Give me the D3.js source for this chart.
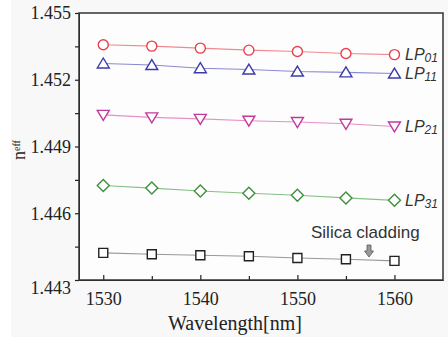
<!DOCTYPE html>
<html><head><meta charset="utf-8">
<script src="https://cdn.jsdelivr.net/npm/d3@7/dist/d3.min.js"></script>
<style>
html,body{margin:0;padding:0;background:#fff;}
svg{display:block;}
</style></head>
<body>
<svg id="chart" width="448" height="338"></svg>
<script>
const wavelengths = [1530, 1535, 1540, 1545, 1550, 1555, 1560];
const lp01 = [1.45357, 1.45351, 1.45342, 1.45333, 1.45327, 1.45318, 1.45313];
const lp11 = [1.45273, 1.45266, 1.45252, 1.45246, 1.45237, 1.45233, 1.45228];
const lp21 = [1.45042, 1.45031, 1.45024, 1.45016, 1.45010, 1.45002, 1.44990];
const lp31 = [1.44725, 1.44713, 1.44700, 1.44690, 1.44681, 1.44669, 1.44658];
const cladding = [1.44422, 1.44416, 1.44411, 1.44407, 1.44399, 1.44393, 1.44386];
const seriesNames = ["01", "11", "21", "31"];
const xTicks = [1530, 1540, 1550, 1560];
const xMinorTicks = [1535, 1545, 1555];
const yTicks = [1.443, 1.446, 1.449, 1.452, 1.455];
const yMinorTicks = [1.4445, 1.4475, 1.4505, 1.4535];

const svg = d3.select("#chart");
svg.append("rect").attr("x", 11).attr("y", 0).attr("width", 437).attr("height", 337).attr("fill", "#f8f8f8");

const L = 79, R = 443, T = 13, B = 280;
const x = d3.scaleLinear().domain([1527.5, 1565]).range([L, R]);
const y = d3.scaleLinear().domain([1.443, 1.455]).range([B, T]);

svg.append("rect").attr("x", L).attr("y", T).attr("width", R - L).attr("height", B - T).attr("fill", "#fdfdfd");

const serif = "'Liberation Serif','Times New Roman',serif";
const sans = "'Liberation Sans',Arial,sans-serif";

// X axis
const gx = svg.append("g").attr("transform", `translate(0,${B})`)
  .call(d3.axisBottom(x).tickValues(xTicks).tickFormat(d3.format("d")).tickSizeInner(-5).tickSizeOuter(0).tickPadding(12));
gx.selectAll("text").attr("font-family", serif).attr("font-size", 18).attr("fill", "#222");
svg.append("g").attr("transform", `translate(0,${B})`)
  .call(d3.axisBottom(x).tickValues(xMinorTicks).tickFormat("").tickSizeInner(-4).tickSizeOuter(0))
  .select(".domain").remove();

// Y axis
const gy = svg.append("g").attr("transform", `translate(${L},0)`)
  .call(d3.axisLeft(y).tickValues(yTicks).tickFormat(d3.format(".3f")).tickSizeInner(4).tickSizeOuter(0).tickPadding(4));
gy.selectAll("text").attr("font-family", serif).attr("font-size", 18).attr("fill", "#222");
gy.selectAll("text").filter(d => d === 1.443).attr("dy", "0.75em");
svg.append("g").attr("transform", `translate(${L},0)`)
  .call(d3.axisLeft(y).tickValues(yMinorTicks).tickFormat("").tickSizeInner(4).tickSizeOuter(0))
  .select(".domain").remove();
svg.selectAll(".tick line").attr("stroke", "#222").attr("stroke-width", 1.2);
svg.selectAll(".domain").attr("stroke", "#222");

// Box
svg.append("rect").attr("x", L).attr("y", T).attr("width", R - L).attr("height", B - T)
  .attr("fill", "none").attr("stroke", "#333").attr("stroke-width", 1.5);

// Series
const series = [
  {vals: lp01, line: "#f08a90", col: "#e8404c", sym: "circle", lab: seriesNames[0]},
  {vals: lp11, line: "#8a8ad0", col: "#3c3ca8", sym: "triUp", lab: seriesNames[1]},
  {vals: lp21, line: "#e890c8", col: "#c03a9c", sym: "triDown", lab: seriesNames[2]},
  {vals: lp31, line: "#88c088", col: "#3f8f3f", sym: "diamond", lab: seriesNames[3]},
  {vals: cladding, line: "#999", col: "#222", sym: "square", lab: null}
];
const line = d3.line().x((d, i) => x(wavelengths[i])).y(d => y(d));
function marker(sym) {
  switch (sym) {
    case "circle": return "M-5,0A5,5 0 1,0 5,0A5,5 0 1,0 -5,0Z";
    case "triUp": return "M0,-5.5L6,4.5L-6,4.5Z";
    case "triDown": return "M0,5.5L6,-4.5L-6,-4.5Z";
    case "diamond": return "M0,-6L6,0L0,6L-6,0Z";
    case "square": return "M-4.5,-4.5H4.5V4.5H-4.5Z";
  }
}
series.forEach(s => {
  svg.append("path").datum(s.vals).attr("d", line).attr("fill", "none").attr("stroke", s.line).attr("stroke-width", 1.1);
  svg.append("g").selectAll("path").data(s.vals).join("path")
    .attr("transform", (d, i) => `translate(${x(wavelengths[i])},${y(d)})`)
    .attr("d", marker(s.sym)).attr("fill", "#fff").attr("stroke", s.col).attr("stroke-width", 1.4);
  if (s.lab) {
    const t = svg.append("text").attr("x", 405).attr("y", y(s.vals[s.vals.length - 1]) + 5.5)
      .attr("font-family", sans).attr("font-style", "italic").attr("font-size", 16).attr("fill", "#333");
    t.append("tspan").text("LP");
    t.append("tspan").attr("font-size", 12).attr("dy", 2).text(s.lab);
  }
});

// Silica cladding annotation
svg.append("text").attr("x", 311).attr("y", 238).attr("font-family", sans).attr("font-size", 17).attr("fill", "#333").text("Silica cladding");
svg.append("path").attr("d", "M367,245H371V251H373.5L369,257L364.5,251H367Z").attr("fill", "#999").attr("stroke", "#555").attr("stroke-width", 0.8);

// Axis titles
svg.append("text").attr("x", 235).attr("y", 330).attr("text-anchor", "middle").attr("font-family", serif).attr("font-size", 20).attr("fill", "#222").text("Wavelength[nm]");
const yl = svg.append("text").attr("transform", "translate(25,160) rotate(-90)").attr("font-family", serif).attr("font-size", 18).attr("fill", "#222");
yl.append("tspan").text("n");
yl.append("tspan").attr("font-size", 10).attr("dy", -5).text("eff");
</script>
</body></html>
